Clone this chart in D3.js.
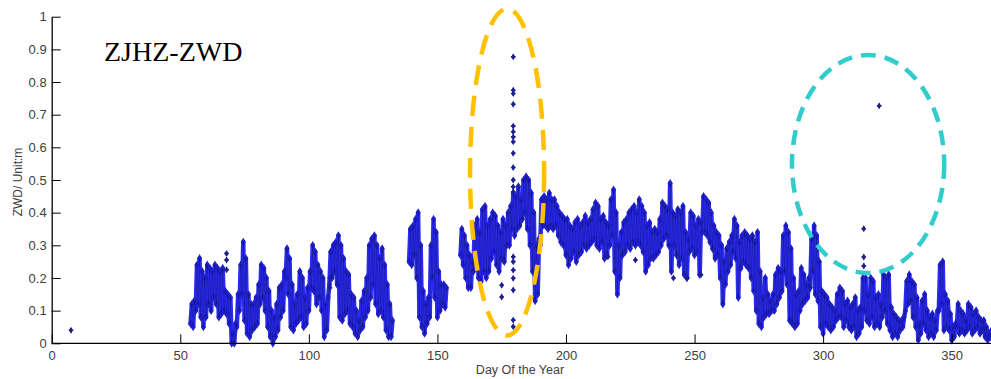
<!DOCTYPE html>
<html><head><meta charset="utf-8">
<script src="https://cdn.jsdelivr.net/npm/d3@7"></script>
<style>html,body{margin:0;padding:0;background:#fff;}svg{display:block;}</style>
</head><body>
<svg id="chart" width="991" height="379"></svg>
<script>
// ---- data ----
const title = "ZJHZ-ZWD";
const xLabel = "Day Of the Year";
const yLabel = "ZWD/ Unit:m";
const xTicks = [0, 50, 100, 150, 200, 250, 300, 350];
const yTicks = [0, 0.1, 0.2, 0.3, 0.4, 0.5, 0.6, 0.7, 0.8, 0.9, 1];
const firstDay = 54; // daily low / high of the ZWD band, day 54 .. 365 (null = no data)
const dailyLow = [
  0.06,0.05,0.10,0.12,0.08,0.05,0.08,0.12,0.10,0.14,
  0.12,0.08,0.09,0.10,0.09,0.06,0.00,0.00,0.05,0.10,
  0.15,0.07,0.03,0.02,0.04,0.05,0.06,0.12,0.14,0.10,
  0.05,0.02,0.00,0.02,0.04,0.08,0.10,0.20,0.15,0.05,
  0.04,0.06,0.07,0.08,0.05,0.06,0.10,0.17,0.16,0.12,
  0.14,0.10,0.02,0.04,0.18,0.20,0.22,0.18,0.08,0.07,
  0.09,0.10,0.06,0.05,0.03,0.02,0.04,0.05,0.08,0.10,
  0.14,0.18,0.12,0.09,0.10,0.08,0.04,0.02,0.02,null,
  null,null,null,null,null,0.25,0.24,0.27,0.20,0.08,
  0.05,0.03,0.06,0.08,0.20,0.14,0.08,0.10,0.12,0.11,
  null,null,null,null,null,0.27,0.24,0.20,0.17,0.17,
  0.22,0.25,0.20,0.19,0.22,0.20,0.22,0.26,0.28,0.24,
  0.22,0.26,0.25,0.30,0.30,0.35,0.33,0.35,0.36,0.38,
  0.40,0.35,0.30,0.22,0.13,0.15,0.30,0.36,0.36,0.35,
  0.36,0.35,0.36,0.33,0.31,0.30,0.27,0.24,0.26,0.28,
  0.25,0.27,0.28,0.30,0.29,0.30,0.31,0.32,0.30,0.29,
  0.31,0.26,0.27,0.30,0.33,0.22,0.15,0.20,0.27,0.28,
  0.30,0.29,0.31,0.30,0.31,0.30,0.28,0.22,0.24,0.26,
  0.26,0.27,0.28,0.30,0.32,0.33,0.30,0.22,0.30,0.27,
  0.24,0.26,0.21,0.20,0.28,0.29,0.27,0.28,0.21,0.34,
  0.34,0.33,0.31,0.29,0.26,0.27,0.20,0.12,0.18,0.22,
  0.24,0.28,0.26,0.14,0.23,0.25,0.24,0.23,0.20,0.16,
  0.10,0.06,0.05,0.08,0.09,0.09,0.10,0.10,0.12,0.14,
  0.16,0.22,0.18,0.07,0.06,0.05,0.06,0.10,0.12,0.13,
  0.14,0.17,0.22,0.15,0.13,0.05,0.03,0.06,0.05,0.04,
  0.05,0.07,0.08,0.08,0.05,0.07,0.05,0.04,0.05,0.02,
  0.03,0.05,0.10,0.07,0.06,0.08,0.05,0.06,0.05,0.08,
  0.10,0.06,0.04,0.02,0.03,0.02,0.04,0.05,0.10,0.12,
  0.13,0.08,0.05,0.01,0.03,0.06,0.04,0.02,0.03,0.02,
  0.04,0.10,0.12,0.04,0.05,0.04,0.01,0.02,0.05,0.03,
  0.04,0.03,0.04,0.05,0.03,0.04,0.05,0.03,0.04,0.02,
  0.01,0.02
];
const dailyHigh = [
  0.12,0.13,0.24,0.26,0.22,0.20,0.24,0.23,0.22,0.24,
  0.23,0.22,0.23,0.16,0.15,0.14,0.03,0.06,0.15,0.24,
  0.31,0.26,0.15,0.12,0.12,0.14,0.18,0.24,0.23,0.20,
  0.16,0.10,0.08,0.12,0.17,0.18,0.22,0.29,0.26,0.18,
  0.12,0.15,0.22,0.20,0.14,0.17,0.22,0.30,0.28,0.24,
  0.22,0.20,0.12,0.14,0.28,0.30,0.31,0.33,0.30,0.26,
  0.22,0.21,0.15,0.14,0.10,0.07,0.13,0.16,0.20,0.30,
  0.32,0.33,0.30,0.26,0.29,0.24,0.18,0.12,0.07,null,
  null,null,null,null,null,0.35,0.36,0.38,0.40,0.30,
  0.16,0.12,0.14,0.30,0.38,0.34,0.22,0.18,0.18,0.17,
  null,null,null,null,null,0.35,0.33,0.30,0.27,0.25,
  0.36,0.38,0.34,0.41,0.42,0.36,0.38,0.40,0.39,0.36,
  0.34,0.38,0.36,0.40,0.42,0.46,0.45,0.48,0.44,0.50,
  0.51,0.50,0.46,0.40,0.30,0.32,0.44,0.45,0.44,0.46,
  0.44,0.44,0.42,0.40,0.39,0.38,0.38,0.36,0.35,0.37,
  0.38,0.36,0.37,0.39,0.37,0.38,0.41,0.43,0.42,0.38,
  0.39,0.37,0.36,0.44,0.47,0.40,0.30,0.34,0.37,0.38,
  0.40,0.41,0.42,0.40,0.44,0.42,0.40,0.36,0.37,0.34,
  0.35,0.34,0.38,0.43,0.42,0.41,0.49,0.40,0.39,0.41,
  0.40,0.42,0.34,0.32,0.40,0.39,0.36,0.38,0.37,0.45,
  0.44,0.43,0.40,0.36,0.34,0.33,0.30,0.25,0.29,0.31,
  0.33,0.38,0.36,0.31,0.33,0.34,0.33,0.32,0.33,0.31,
  0.34,0.22,0.14,0.20,0.15,0.13,0.15,0.21,0.23,0.22,
  0.33,0.36,0.34,0.29,0.20,0.15,0.16,0.23,0.21,0.18,
  0.20,0.32,0.36,0.33,0.25,0.16,0.15,0.14,0.12,0.11,
  0.10,0.15,0.17,0.16,0.12,0.13,0.11,0.12,0.14,0.10,
  0.11,0.20,0.20,0.15,0.20,0.19,0.14,0.15,0.12,0.21,
  0.20,0.21,0.11,0.09,0.08,0.07,0.07,0.08,0.19,0.21,
  0.19,0.18,0.14,0.06,0.13,0.15,0.10,0.08,0.09,0.07,
  0.10,0.24,0.25,0.15,0.13,0.09,0.05,0.06,0.12,0.10,
  0.09,0.07,0.12,0.11,0.09,0.10,0.08,0.07,0.07,0.05,
  0.03,0.04
];
// isolated points (outliers)
const outlierDays = [7.5, 68, 68, 68, 108.2, 108.2,
  175, 175,
  179.5,179.5,179.5,179.5,179.5,179.5,179.5,179.5,179.5,179.5,179.5,179.5,179.5,
  179.5,179.5,179.5,179.5,179.5,179.5,179.5,
  216.3, 227, 241.8, 247.2, 252.5,
  315.8, 315.8, 315.8, 321.8];
const outlierValues = [0.04, 0.275, 0.255, 0.225, 0.20, 0.17,
  0.178, 0.142,
  0.877,0.775,0.765,0.732,0.665,0.648,0.632,0.617,0.582,0.538,0.50,0.479,0.464,
  0.265,0.25,0.224,0.199,0.163,0.071,0.051,
  0.265, 0.255, 0.20, 0.20, 0.21,
  0.351, 0.264, 0.237, 0.727];
// highlight ellipses (centre day, centre value, half-width in days, half-height in m)
const ellipseDays = [177.1, 317.5];
const ellipseValues = [0.524, 0.549];
const ellipseHalfDays = [14.4, 29.6];
const ellipseHalfValues = [0.50, 0.334];
const ellipseColors = ["#FFC000", "#33CCCC"];

// ---- chart ----
const svg = d3.select("#chart");
const x = d3.scaleLinear().domain([0, 365]).range([51.7, 51.7 + 365 * 2.5714]);
const y = d3.scaleLinear().domain([0, 1]).range([343.3, 16.7]);

// build the series: daily low then high, split at gaps
const segments = [];
let cur = [];
dailyLow.forEach((lo, i) => {
  const hi = dailyHigh[i];
  const d = firstDay + i;
  if (lo == null || hi == null) { if (cur.length) segments.push(cur); cur = []; return; }
  cur.push({t: d, v: lo});
  cur.push({t: d + 0.5, v: hi});
});
if (cur.length) segments.push(cur);
const allPts = segments.flat();

const line = d3.line().x(p => x(p.t)).y(p => y(p.v));
const g = svg.append("g");
g.selectAll("path.band").data(segments).join("path")
  .attr("class", "band").attr("d", line)
  .attr("fill", "none").attr("stroke", "#2a2af0").attr("stroke-width", 4.5)
  .attr("stroke-linejoin", "round").attr("stroke-linecap", "round");
const symB = d3.symbol().type(d3.symbolDiamond).size(22);
g.selectAll("path.pt").data(allPts).join("path").attr("class", "pt")
  .attr("transform", p => `translate(${x(p.t)},${y(p.v)})`).attr("d", symB).attr("fill", "#1f1fc8");
g.selectAll("path.core").data(segments).join("path")
  .attr("class", "core").attr("d", line)
  .attr("fill", "none").attr("stroke", "#000020").attr("stroke-width", 0.6)
  .attr("stroke-opacity", 0.35);

const sym = d3.symbol().type(d3.symbolDiamond).size(14);
const symC = d3.symbol().type(d3.symbolCross).size(12);
const outl = outlierDays.map((d, i) => ({t: d, v: outlierValues[i]}));
g.selectAll("path.od").data(outl).join("path").attr("class", "od")
  .attr("transform", p => `translate(${x(p.t)},${y(p.v)})`).attr("d", sym).attr("fill", "#1e1e88");
g.selectAll("path.oc").data(outl).join("path").attr("class", "oc")
  .attr("transform", p => `translate(${x(p.t)},${y(p.v)})`).attr("d", symC).attr("fill", "#1e1e88");

// axes
const fontTick = "'Liberation Sans', Arial, sans-serif";
const xAxis = d3.axisBottom(x).tickValues(xTicks).tickSize(0).tickPadding(6).tickFormat(d3.format("d"));
const yAxis = d3.axisLeft(y).tickValues(yTicks).tickSize(0).tickPadding(5).tickFormat(d => d3.format("~g")(d));
const gx = svg.append("g").attr("transform", `translate(0,${y(0)})`).call(xAxis);
const gy = svg.append("g").attr("transform", `translate(${x(0)},0)`).call(yAxis);
[gx, gy].forEach(a => {
  a.select(".domain").attr("stroke", "#000").attr("stroke-width", 1.3);
  a.selectAll("text").attr("font-family", fontTick).attr("font-size", 13).attr("fill", "#404040");
});
gx.select(".domain").attr("d", `M${x(0)},0H991`);
// inward tick marks
gx.selectAll(".tick").append("line").attr("y1", 0).attr("y2", -9).attr("stroke", "#000");
gy.selectAll(".tick").append("line").attr("x1", 0).attr("x2", 9).attr("stroke", "#000");
gx.selectAll(".tick text").attr("dy", "0.85em");

svg.append("text").attr("x", 520).attr("y", 374).attr("text-anchor", "middle")
  .attr("font-family", fontTick).attr("font-size", 12.5).attr("fill", "#404040").text(xLabel);
svg.append("text").attr("transform", "translate(22,182) rotate(-90)").attr("text-anchor", "middle")
  .attr("font-family", fontTick).attr("font-size", 12).attr("fill", "#404040").text(yLabel);

svg.append("text").attr("x", 104).attr("y", 61)
  .attr("font-family", "'Liberation Serif', 'Times New Roman', serif").attr("font-size", 28)
  .attr("fill", "#000").text(title);

// ellipses
ellipseDays.forEach((d, i) => {
  svg.append("ellipse")
    .attr("cx", x(d)).attr("cy", y(ellipseValues[i]))
    .attr("rx", x(d + ellipseHalfDays[i]) - x(d))
    .attr("ry", y(0) - y(ellipseHalfValues[i]))
    .attr("fill", "none").attr("stroke", ellipseColors[i]).attr("stroke-width", 4.5)
    .attr("stroke-dasharray", i === 0 ? "20 11" : "15 9");
});
</script>
</body></html>
